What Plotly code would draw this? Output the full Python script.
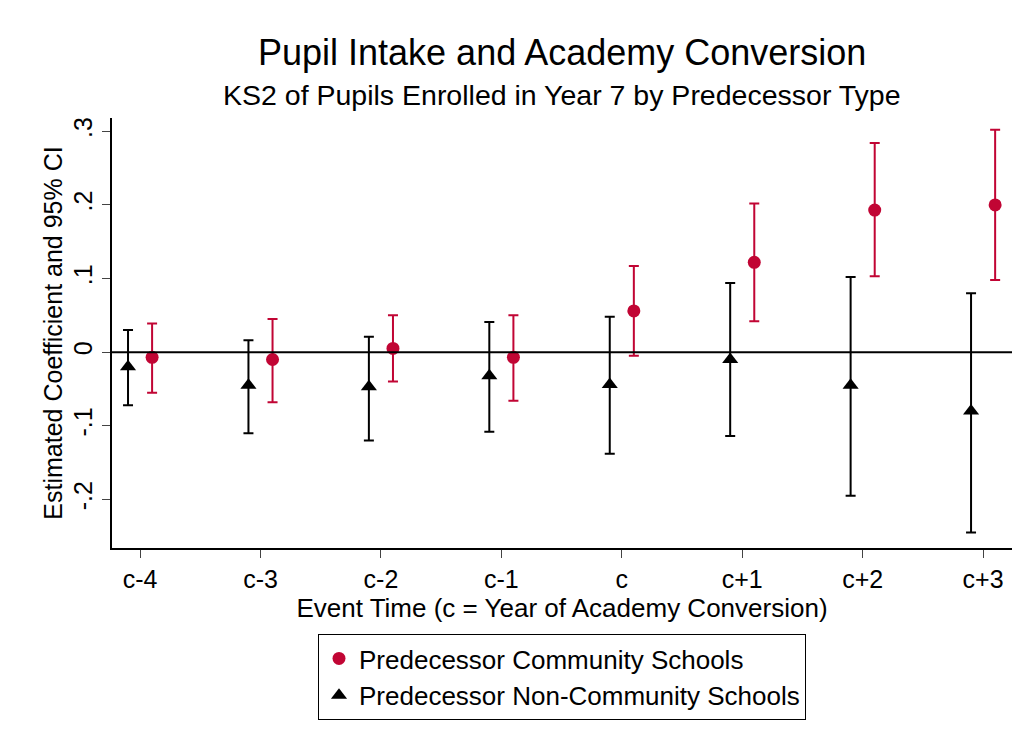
import plotly.graph_objects as go

cats = ["c-4","c-3","c-2","c-1","c","c+1","c+2","c+3"]
nc_est = [-0.02,-0.045,-0.047,-0.032,-0.044,-0.01,-0.045,-0.08]
nc_lo = [-0.072,-0.11,-0.12,-0.108,-0.138,-0.114,-0.195,-0.245]
nc_hi = [0.03,0.016,0.021,0.041,0.048,0.094,0.102,0.08]
c_est = [-0.007,-0.01,0.005,-0.007,0.056,0.122,0.193,0.2]
c_lo = [-0.055,-0.068,-0.04,-0.066,-0.005,0.042,0.103,0.098]
c_hi = [0.039,0.045,0.05,0.05,0.117,0.202,0.284,0.302]
yt = [-0.2,-0.1,0,0.1,0.2,0.3]
ytl = ["-.2","-.1","0",".1",".2",".3"]

red = "#c10534"
xs = list(range(len(cats)))
fig = go.Figure()
fig.add_hline(y=0, line=dict(color="black", width=2))
fig.add_trace(go.Scatter(
    x=[i+0.1 for i in xs], y=c_est, mode="markers", name="Predecessor Community Schools",
    marker=dict(color=red, size=13, symbol="circle"),
    error_y=dict(type="data", symmetric=False,
                 array=[h-e for h,e in zip(c_hi,c_est)],
                 arrayminus=[e-l for e,l in zip(c_est,c_lo)],
                 color=red, thickness=2, width=5)))
fig.add_trace(go.Scatter(
    x=[i-0.1 for i in xs], y=nc_est, mode="markers", name="Predecessor Non-Community Schools",
    marker=dict(color="black", size=14, symbol="triangle-up"),
    error_y=dict(type="data", symmetric=False,
                 array=[h-e for h,e in zip(nc_hi,nc_est)],
                 arrayminus=[e-l for e,l in zip(nc_est,nc_lo)],
                 color="black", thickness=2, width=5)))
fig.update_layout(
    width=1021, height=747, paper_bgcolor="white", plot_bgcolor="white",
    margin=dict(l=104, r=17, t=110, b=207, autoexpand=False),
    font=dict(family="Liberation Sans, Arial", size=26, color="black"),
    annotations=[
        dict(text="Pupil Intake and Academy Conversion", x=0.5, y=1, xref="paper", yref="paper",
             yshift=66, showarrow=False, font=dict(size=36), xanchor="center", yanchor="middle"),
        dict(text="KS2 of Pupils Enrolled in Year 7 by Predecessor Type", x=0.5, y=1, xref="paper", yref="paper",
             yshift=23, showarrow=False, font=dict(size=28.5), xanchor="center", yanchor="middle"),
    ],
    xaxis=dict(range=[-0.233, 7.24], tickvals=xs, ticktext=cats, showgrid=False, automargin=False,
               showline=True, linecolor="black", linewidth=1.5, ticks="outside", ticklen=8,
               tickfont=dict(size=25), zeroline=False,
               title=dict(text="Event Time (c = Year of Academy Conversion)", standoff=0, font=dict(size=26))),
    yaxis=dict(range=[-0.266, 0.318], tickvals=yt, ticktext=ytl, tickangle=-90, showgrid=False, automargin=False,
               showline=True, linecolor="black", linewidth=1.5, ticks="outside", ticklen=8,
               tickfont=dict(size=25), zeroline=False,
               title=dict(text="Estimated Coefficient and 95% CI", standoff=0, font=dict(size=25))),
    legend=dict(x=0.5, xanchor="center", y=-0.2, yanchor="top", bordercolor="black",
                borderwidth=1, font=dict(size=26), bgcolor="white", tracegroupgap=4),
    showlegend=True)
fig.write_html("out.html")
